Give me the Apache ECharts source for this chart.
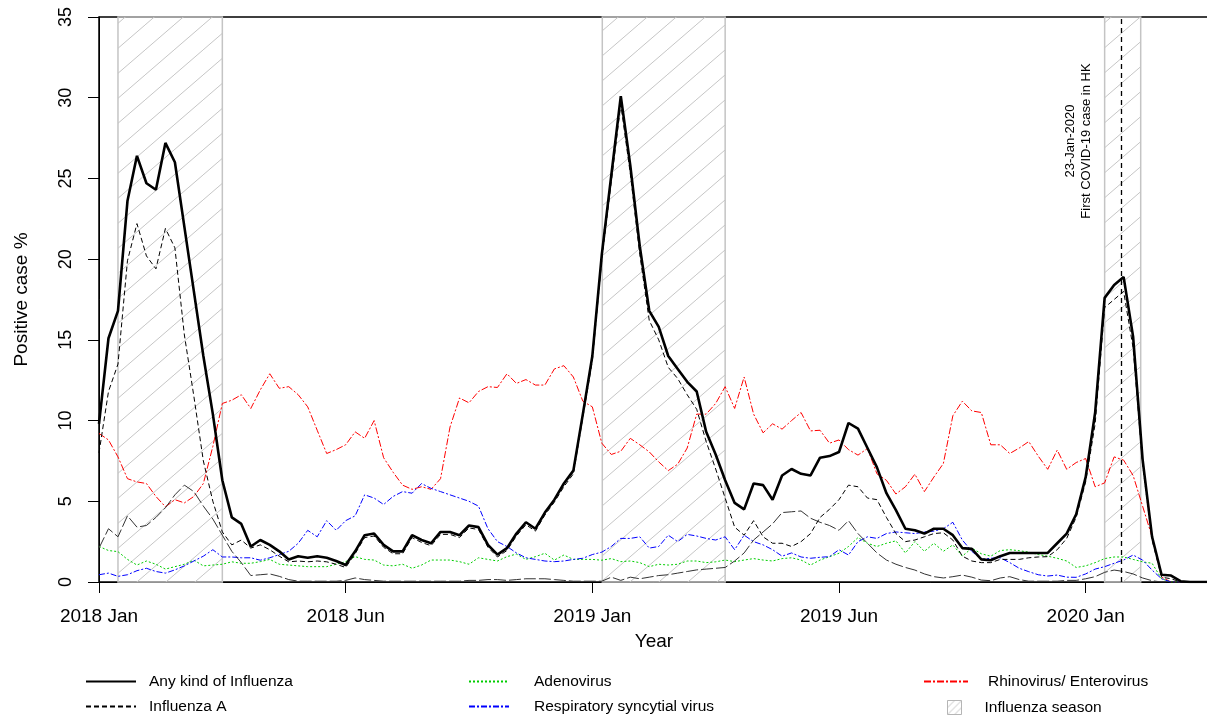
<!DOCTYPE html>
<html>
<head>
<meta charset="utf-8">
<title>Positive case %</title>
<script src="https://cdn.jsdelivr.net/npm/echarts@6.0.0/dist/echarts.min.js"></script>
<style>
html,body{margin:0;padding:0;background:#fff;}
#main{width:1207px;height:722px;}
</style>
</head>
<body>
<div id="main"></div>
<script>
// weekly positive rates (%), index 0 = first week of 2018
var anyFlu = [9.8,15.1,16.8,23.6,26.4,24.7,24.3,27.2,26.0,22.0,
  18.0,14.0,10.4,6.3,4.0,3.6,2.2,2.6,2.3,1.9,
  1.4,1.6,1.5,1.6,1.5,1.3,1.05,1.9,2.9,3.0,
  2.3,1.9,1.9,2.9,2.6,2.4,3.1,3.1,2.9,3.5,
  3.4,2.3,1.7,2.1,3.0,3.7,3.3,4.3,5.1,6.1,
  6.9,10.4,14.0,20.3,25.2,30.1,25.8,20.8,16.8,15.8,
  14.0,13.2,12.4,11.8,9.3,7.9,6.3,4.9,4.5,6.1,
  6.0,5.1,6.6,7.0,6.7,6.6,7.7,7.8,8.05,9.85,
  9.5,8.3,7.1,5.5,4.45,3.3,3.2,3.0,3.3,3.3,
  2.9,2.1,2.05,1.4,1.35,1.6,1.8,1.8,1.8,1.8,
  1.8,2.4,3.0,4.2,6.5,10.5,17.6,18.4,18.9,15.2,
  7.6,2.8,0.45,0.4,0.05,0,0,0];
var fluA = [8.0,11.8,13.5,19.9,22.2,20.2,19.4,21.9,20.7,15.3,
  11.5,7.5,5.0,3.1,2.3,2.6,2.1,2.3,2.0,1.6,
  1.25,1.3,1.25,1.3,1.25,1.1,0.9,1.75,2.75,2.85,
  2.15,1.75,1.75,2.75,2.45,2.25,2.95,2.95,2.75,3.35,
  3.25,2.15,1.55,1.95,2.85,3.55,3.15,4.15,4.95,5.9,
  6.7,10.2,13.7,20.0,24.8,29.6,25.3,20.3,16.2,15.0,
  13.3,12.6,11.6,10.7,8.7,7.0,5.2,3.4,2.9,3.8,
  2.8,2.4,2.4,2.2,2.5,3.0,4.0,4.5,5.1,6.0,
  5.9,5.2,5.1,4.0,3.0,2.5,2.6,2.8,3.0,3.05,
  2.6,1.6,1.3,1.2,1.2,1.4,1.4,1.4,1.5,1.55,
  1.57,2.0,2.7,4.0,6.2,9.8,17.0,17.5,18.0,14.5,
  7.3,2.6,0.3,0.2,0,0,0,0];
var fluB = [2.1,3.3,2.8,4.1,3.4,3.5,4.0,4.6,5.4,6.0,
  5.6,4.7,3.9,2.9,1.9,1.2,0.4,0.45,0.5,0.35,
  0.15,0.05,0.05,0.05,0.05,0.05,0.1,0.25,0.15,0.1,
  0.05,0.05,0.05,0.05,0.05,0.05,0.05,0.05,0.05,0.1,
  0.1,0.15,0.15,0.1,0.15,0.2,0.2,0.2,0.15,0.1,
  0.05,0.05,0.05,0.05,0.3,0.1,0.3,0.2,0.3,0.4,
  0.45,0.55,0.65,0.75,0.8,0.85,0.9,1.3,1.8,2.6,
  3.1,3.6,4.3,4.35,4.4,3.95,3.7,3.5,3.2,3.8,
  3.0,2.4,1.8,1.36,1.1,0.9,0.74,0.5,0.33,0.25,
  0.33,0.43,0.3,0.12,0.08,0.25,0.33,0.15,0.05,0.05,
  0.05,0.05,0.1,0.1,0.2,0.33,0.6,0.74,0.65,0.5,
  0.25,0.08,0,0,0,0,0,0];
var adeno = [2.2,1.95,1.88,1.4,1.05,1.3,1.1,0.8,0.95,1.1,
  1.35,1.0,1.05,1.1,1.25,1.16,1.16,1.26,1.4,1.1,
  1.05,1.0,0.95,0.95,0.95,1.1,1.26,1.57,1.4,1.36,
  1.05,1.0,1.1,0.85,1.05,1.36,1.36,1.36,1.26,1.1,
  1.5,1.4,1.3,1.57,1.73,1.4,1.57,1.78,1.36,1.67,
  1.4,1.4,1.4,1.35,1.45,1.26,1.3,1.2,0.95,1.1,
  1.05,1.1,1.3,1.3,1.2,1.25,1.36,1.26,1.36,1.45,
  1.36,1.3,1.45,1.5,1.36,1.05,1.36,1.57,1.78,2.2,
  2.75,2.4,2.2,2.4,2.55,1.8,2.5,1.9,2.4,1.9,
  2.3,1.6,2.1,1.75,1.6,1.95,2.0,1.94,1.85,1.7,
  1.6,1.47,1.3,0.9,1.0,1.2,1.45,1.55,1.55,1.4,
  1.25,1.16,0.2,0,0,0,0,0];
var rsv = [0.45,0.55,0.35,0.45,0.7,0.85,0.65,0.55,0.75,1.0,
  1.3,1.6,2.0,1.55,1.55,1.5,1.5,1.35,1.5,1.7,
  1.9,2.4,3.2,2.8,3.8,3.2,3.8,4.1,5.4,5.2,
  4.8,5.3,5.6,5.5,6.1,5.8,5.6,5.4,5.2,5.0,
  4.7,3.3,2.5,2.2,1.8,1.5,1.4,1.3,1.26,1.3,
  1.4,1.47,1.7,1.85,2.2,2.7,2.7,2.8,2.1,2.2,
  2.9,2.5,2.95,2.85,2.7,2.6,2.8,2.0,2.9,2.5,
  2.3,2.0,1.6,1.8,1.55,1.47,1.53,1.57,2.0,1.67,
  2.5,2.8,2.7,3.0,3.1,3.05,3.0,3.1,3.15,3.3,
  3.7,2.6,1.9,1.4,1.47,1.5,1.2,0.85,0.64,0.45,
  0.37,0.43,0.3,0.29,0.5,0.8,0.95,1.16,1.36,1.67,
  1.36,0.74,0.2,0,0,0,0,0];
var rhino = [9.2,8.8,7.75,6.4,6.2,6.1,5.3,4.66,5.1,4.9,
  5.3,6.1,8.4,11.06,11.26,11.6,10.75,11.9,12.9,12.0,
  12.1,11.6,10.85,9.4,7.96,8.2,8.5,9.3,8.9,10.0,
  7.7,6.8,6.0,5.74,5.9,5.74,6.4,9.6,11.4,11.1,
  11.8,12.1,12.05,12.9,12.3,12.54,12.2,12.2,13.2,13.4,
  12.7,11.2,10.85,8.6,7.9,8.1,8.9,8.5,8.06,7.44,
  6.9,7.3,8.3,10.4,10.4,11.06,12.1,10.75,12.7,10.4,
  9.24,9.8,9.47,10.0,10.5,9.36,9.4,8.6,8.8,8.2,
  7.86,8.27,6.7,6.3,5.45,5.9,6.68,5.6,6.5,7.34,
  10.3,11.2,10.6,10.5,8.5,8.5,7.96,8.3,8.7,7.8,
  6.98,8.17,6.98,7.4,7.65,5.9,6.14,7.75,7.55,6.6,
  4.7,2.8,0.3,0,0,0,0,0];

var tickWeeks = [0, 26, 52, 78, 104];
var tickLabels = ['2018 Jan', '2018 Jun', '2019 Jan', '2019 Jun', '2020 Jan'];
var seasons = [[2, 13], [53.05, 66], [106, 109.8]];
var covidWeek = 107.7;

var font = '"Liberation Sans", Arial, sans-serif';

function pairs(arr) {
    var out = [];
    for (var i = 0; i < arr.length; i++) out.push([i, arr[i]]);
    return out;
}

// hatch tile for the influenza season boxes
var hatch = document.createElement('canvas');
hatch.width = 29;
hatch.height = 25;
var hctx = hatch.getContext('2d');
hctx.strokeStyle = '#c6c6c6';
hctx.lineWidth = 1;
hctx.beginPath();
hctx.moveTo(-29, 50);
hctx.lineTo(58, -25);
hctx.stroke();
var hatchFill = { image: hatch, repeat: 'repeat' };

// small tile for the legend square
var hatchSmall = document.createElement('canvas');
hatchSmall.width = 7;
hatchSmall.height = 7;
var sctx = hatchSmall.getContext('2d');
sctx.strokeStyle = '#c6c6c6';
sctx.lineWidth = 1;
sctx.beginPath();
sctx.moveTo(-7, 14);
sctx.lineTo(14, -7);
sctx.stroke();

var seasonAreas = seasons.map(function (s) {
    return [{ xAxis: s[0] }, { xAxis: s[1] }];
});

// hide the circle ECharts puts in the middle of line legend icons
var noSymbol = { color: 'rgba(0,0,0,0)', borderWidth: 0 };
var legendText = { fontSize: 15.5, color: '#000', lineHeight: 17, fontFamily: font };

var chart = echarts.init(document.getElementById('main'));
chart.setOption({
    animation: false,
    backgroundColor: '#fff',
    textStyle: { fontFamily: font },
    grid: {
        left: 99, top: 17, right: -2, bottom: 140,
        show: true, borderColor: '#000', borderWidth: 1.5,
        outerBoundsMode: 'none'
    },
    xAxis: {
        type: 'value',
        min: 0,
        max: 117,
        name: 'Year',
        nameLocation: 'middle',
        nameGap: 50,
        nameTextStyle: { fontSize: 19, color: '#000', fontFamily: font },
        axisLine: { show: true, lineStyle: { color: '#000', width: 1 } },
        axisTick: { show: true, customValues: tickWeeks, length: 11, lineStyle: { color: '#000' } },
        axisLabel: {
            customValues: tickWeeks,
            fontSize: 19,
            color: '#000',
            margin: 25,
            fontFamily: font,
            formatter: function (v) {
                var i = tickWeeks.indexOf(v);
                return i < 0 ? '' : tickLabels[i];
            }
        },
        splitLine: { show: false }
    },
    yAxis: {
        type: 'value',
        min: 0,
        max: 35,
        interval: 5,
        name: 'Positive case %',
        nameLocation: 'middle',
        nameRotate: 90,
        nameGap: 68,
        nameTextStyle: { fontSize: 19, color: '#000', fontFamily: font },
        axisLine: { show: true, lineStyle: { color: '#000', width: 1 } },
        axisTick: { show: true, length: 11, lineStyle: { color: '#000' } },
        axisLabel: { rotate: 90, fontSize: 18, color: '#000', margin: 24, fontFamily: font },
        splitLine: { show: false }
    },
    legend: [
        {
            left: 85, top: 673, orient: 'vertical', itemGap: 8, padding: 0, height: 60,
            itemWidth: 50, itemHeight: 14, selectedMode: false, itemStyle: noSymbol,
            textStyle: Object.assign({ padding: [0, 0, 0, 8] }, legendText),
            data: ['Any kind of Influenza', 'Influenza A']
        },
        {
            left: 468, top: 673, orient: 'vertical', itemGap: 8, padding: 0, height: 60,
            itemWidth: 40, itemHeight: 14, selectedMode: false, itemStyle: noSymbol,
            textStyle: Object.assign({ padding: [0, 0, 0, 20] }, legendText),
            data: ['Adenovirus', 'Respiratory syncytial virus']
        },
        {
            left: 923, top: 673, orient: 'vertical', padding: 0,
            itemWidth: 44, itemHeight: 14, selectedMode: false, itemStyle: noSymbol,
            textStyle: Object.assign({ padding: [0, 0, 0, 15] }, legendText),
            data: ['Rhinovirus/ Enterovirus']
        },
        {
            left: 947, top: 699, orient: 'vertical', padding: 0,
            itemWidth: 14, itemHeight: 14, selectedMode: false,
            textStyle: Object.assign({ padding: [0, 0, 0, 18] }, legendText),
            data: [{
                name: 'Influenza season',
                icon: 'rect',
                itemStyle: { color: { image: hatchSmall, repeat: 'repeat' }, borderColor: '#b5b5b5', borderWidth: 1 }
            }]
        }
    ],
    graphic: [
        {
            type: 'text',
            x: 1078,
            y: 141,
            rotation: Math.PI / 2,
            style: {
                text: '23-Jan-2020\nFirst COVID-19 case in HK',
                fill: '#000',
                font: '13px "Liberation Sans", Arial, sans-serif',
                align: 'center',
                verticalAlign: 'middle',
                lineHeight: 16
            }
        }
    ],
    series: [
        {
            name: 'Influenza season',
            type: 'bar',
            z: 1,
            data: [],
            itemStyle: { color: hatchFill, borderColor: '#b5b5b5', borderWidth: 1 },
            markArea: {
                silent: true,
                itemStyle: { color: hatchFill, borderColor: '#c4c4c4', borderWidth: 1.5 },
                data: seasonAreas
            },
            markLine: {
                silent: true,
                symbol: 'none',
                label: { show: false },
                lineStyle: { color: '#000', type: [5, 4], width: 1.3 },
                data: [{ xAxis: covidWeek }]
            }
        },
        {
            name: 'Rhinovirus/ Enterovirus',
            type: 'line',
            symbol: 'none',
            z: 3,
            data: pairs(rhino),
            itemStyle: { color: '#ff0000' },
            lineStyle: { color: '#ff0000', width: 1, type: [7, 2, 2, 2] }
        },
        {
            name: 'Adenovirus',
            type: 'line',
            symbol: 'none',
            z: 3,
            data: pairs(adeno),
            itemStyle: { color: '#00cd00' },
            lineStyle: { color: '#00cd00', width: 1, type: [2, 2] }
        },
        {
            name: 'Respiratory syncytial virus',
            type: 'line',
            symbol: 'none',
            z: 3,
            data: pairs(rsv),
            itemStyle: { color: '#0000ff' },
            lineStyle: { color: '#0000ff', width: 1, type: [6, 2, 2, 2] }
        },
        {
            name: 'Influenza B',
            type: 'line',
            symbol: 'none',
            z: 3,
            data: pairs(fluB),
            itemStyle: { color: '#333' },
            lineStyle: { color: '#333', width: 1, type: [12, 3] }
        },
        {
            name: 'Influenza A',
            type: 'line',
            symbol: 'none',
            z: 4,
            data: pairs(fluA),
            itemStyle: { color: '#000' },
            lineStyle: { color: '#000', width: 1, type: [5, 3] }
        },
        {
            name: 'Any kind of Influenza',
            type: 'line',
            symbol: 'none',
            z: 5,
            data: pairs(anyFlu),
            itemStyle: { color: '#000' },
            lineStyle: { color: '#000', width: 2.6 }
        }
    ]
});
</script>
</body>
</html>
